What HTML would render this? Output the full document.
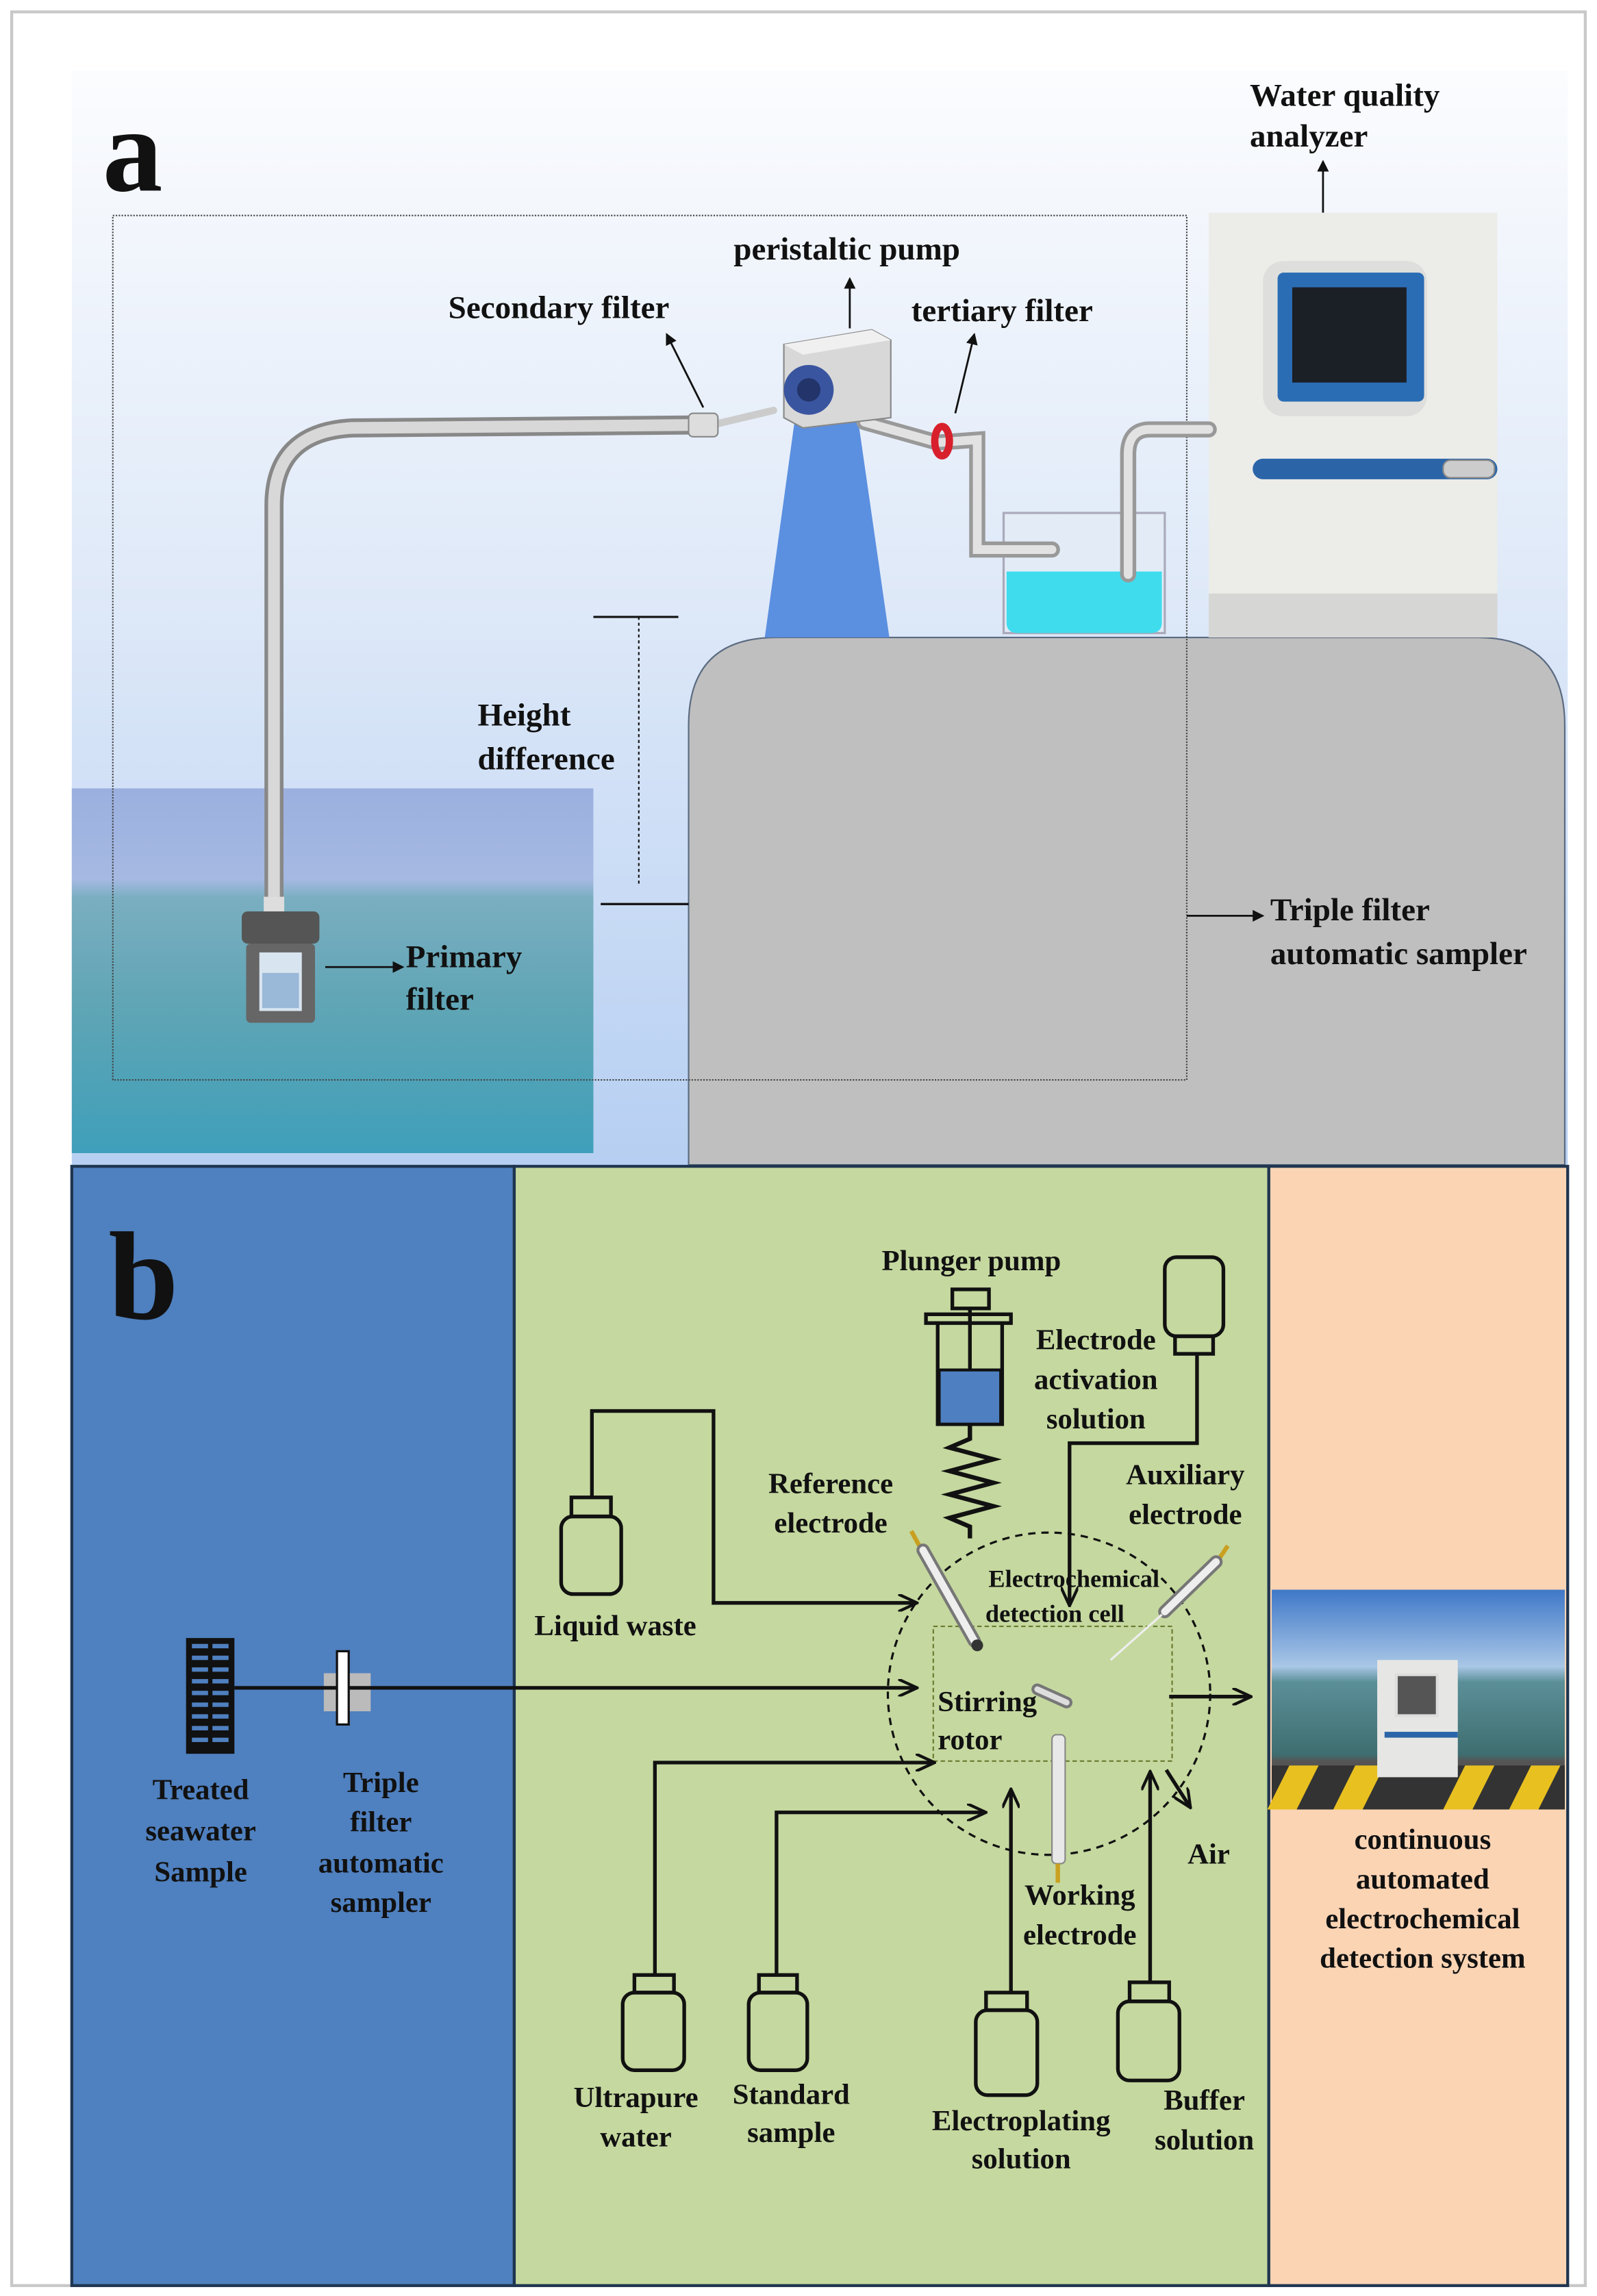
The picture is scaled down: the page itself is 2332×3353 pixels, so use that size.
<!DOCTYPE html>
<html><head><meta charset="utf-8"><style>
html,body{margin:0;padding:0;background:#fff}
svg{display:block}
text{font-family:"Liberation Serif",serif;font-weight:bold;fill:#111}
</style></head><body>
<svg width="2332" height="3353" viewBox="0 0 1090 1567" xmlns="http://www.w3.org/2000/svg">
<defs>
<linearGradient id="sky" x1="0" y1="0" x2="0" y2="1"><stop offset="0" stop-color="#fbfcfe"/><stop offset="0.5" stop-color="#dde8f8"/><stop offset="1" stop-color="#b6cff2"/></linearGradient>
<linearGradient id="sea" x1="0" y1="0" x2="0" y2="1"><stop offset="0" stop-color="#9cb0e0"/><stop offset="0.25" stop-color="#a5b9e2"/><stop offset="0.3" stop-color="#7aaec0"/><stop offset="0.6" stop-color="#5fa5b5"/><stop offset="1" stop-color="#3f9fba"/></linearGradient>
<linearGradient id="ph" x1="0" y1="0" x2="0" y2="1"><stop offset="0" stop-color="#3f78c8"/><stop offset="0.35" stop-color="#a9c7e6"/><stop offset="0.42" stop-color="#5b8f98"/><stop offset="0.75" stop-color="#3e6e70"/><stop offset="0.78" stop-color="#555"/><stop offset="1" stop-color="#444"/></linearGradient>
<marker id="ar" markerWidth="8" markerHeight="8" refX="7" refY="4" orient="auto" markerUnits="userSpaceOnUse"><path d="M0,0 L8,4 L0,8 Z" fill="#111"/></marker>
<marker id="ar2" markerWidth="14" markerHeight="12" refX="12" refY="6" orient="auto" markerUnits="userSpaceOnUse"><path d="M0,0 L13,6 L0,12" fill="none" stroke="#111" stroke-width="2"/></marker>
</defs>
<rect x="8" y="8" width="1074" height="1552" fill="#fff" stroke="#c8c8c8" stroke-width="2"/>
<rect x="49" y="48" width="1021" height="747" fill="url(#sky)"/>
<rect x="49" y="538" width="356" height="249" fill="url(#sea)"/>
<path d="M470,795 L470,495 Q470,435 530,435 L1008,435 Q1068,435 1068,495 L1068,795 Z" fill="#bfbfbf" stroke="#5a6a80" stroke-width="1"/>
<text x="70" y="130" font-size="82">a</text>
<rect x="77" y="147" width="733" height="590" fill="none" stroke="#444" stroke-width="1" stroke-dasharray="1,1"/>
<rect x="825" y="145" width="197" height="290" fill="#ecece8"/>
<rect x="825" y="405" width="197" height="30" fill="#d6d6d4"/>
<rect x="862" y="178" width="112" height="106" rx="14" fill="#dedfdc"/>
<rect x="872" y="186" width="100" height="88" rx="4" fill="#2b6db5"/>
<rect x="882" y="196" width="78" height="65" fill="#1b1f26"/>
<rect x="855" y="313" width="167" height="14" rx="7" fill="#2b65a8"/>
<rect x="985" y="314" width="35" height="12" rx="5" fill="#ccc" stroke="#888"/>
<rect x="685" y="350" width="110" height="82" fill="#e4ecf4" fill-opacity="0.6" stroke="#aab" stroke-width="1.5"/>
<path d="M687,390 L793,390 L793,425 Q793,432 785,432 L695,432 Q687,432 687,425 Z" fill="#3fdcee"/>
<path d="M545,268 L583,268 L607,435 L522,435 Z" fill="#5b8fe0"/>
<g fill="none" stroke-linecap="round">
<path d="M187,618 L187,345 Q187,295 240,292 L470,290" stroke="#888" stroke-width="13"/>
<path d="M187,618 L187,345 Q187,295 240,292 L470,290" stroke="#d8d8d8" stroke-width="8"/>
<path d="M490,289 L528,280" stroke="#ccc" stroke-width="5"/>
<path d="M590,288 L640,302 L667,300 L667,375 L718,375" stroke="#999" stroke-width="11"/>
<path d="M590,288 L640,302 L667,300 L667,375 L718,375" stroke="#e2e2e2" stroke-width="6"/>
<path d="M825,293 L785,293 Q770,293 770,310 L770,392" stroke="#999" stroke-width="11"/>
<path d="M825,293 L785,293 Q770,293 770,310 L770,392" stroke="#e2e2e2" stroke-width="6"/>
</g>
<rect x="470" y="282" width="20" height="16" rx="3" fill="#ddd" stroke="#888"/>
<ellipse cx="643" cy="301" rx="5" ry="10" fill="none" stroke="#d8202c" stroke-width="5"/>
<path d="M535,235 L595,225 L608,232 L608,285 L548,292 L535,285 Z" fill="#d8d8d8" stroke="#888"/>
<path d="M535,235 L595,225 L608,232 L548,242 Z" fill="#f0f0f0"/>
<circle cx="552" cy="266" r="17" fill="#3a55a0"/>
<circle cx="552" cy="266" r="8" fill="#23346a"/>
<rect x="180" y="612" width="14" height="12" fill="#ddd"/>
<rect x="165" y="622" width="53" height="22" rx="4" fill="#555"/>
<rect x="168" y="644" width="47" height="54" rx="3" fill="#666"/>
<rect x="177" y="650" width="29" height="40" fill="#d8e4ef"/>
<rect x="179" y="664" width="25" height="24" fill="#9ab8d8"/>
<line x1="405" y1="421" x2="463" y2="421" stroke="#111" stroke-width="1.5"/>
<line x1="436" y1="421" x2="436" y2="605" stroke="#111" stroke-width="1" stroke-dasharray="2,2"/>
<line x1="410" y1="617" x2="470" y2="617" stroke="#111" stroke-width="1.5"/>
<g font-size="22">
<text x="853" y="72">Water quality</text><text x="853" y="100">analyzer</text>
<text x="578" y="177" text-anchor="middle">peristaltic pump</text>
<text x="306" y="217">Secondary filter</text>
<text x="622" y="219">tertiary filter</text>
<text x="326" y="495">Height</text><text x="326" y="525">difference</text>
<text x="277" y="660">Primary</text><text x="277" y="689">filter</text>
<text x="867" y="628">Triple filter</text><text x="867" y="658">automatic sampler</text>
</g>
<g stroke="#111" stroke-width="1.3" marker-end="url(#ar)">
<line x1="903" y1="145" x2="903" y2="110"/>
<line x1="580" y1="224" x2="580" y2="190"/>
<line x1="480" y1="278" x2="455" y2="228"/>
<line x1="652" y1="282" x2="665" y2="228"/>
<line x1="222" y1="660" x2="275" y2="660"/>
<line x1="810" y1="625" x2="862" y2="625"/>
</g>
<rect x="49" y="796" width="302" height="764" fill="#4f80bf" stroke="#1f3550" stroke-width="2"/>
<rect x="351" y="796" width="515" height="764" fill="#c5d89f" stroke="#1f3550" stroke-width="2"/>
<rect x="866" y="796" width="204" height="764" fill="#fbd4b4" stroke="#1f3550" stroke-width="2"/>
<text x="74" y="900" font-size="86">b</text>
<rect x="868" y="1085" width="200" height="150" fill="url(#ph)"/>
<rect x="868" y="1205" width="200" height="30" fill="#333"/>
<g fill="#e8c020"><path d="M880,1205 L900,1205 L885,1235 L865,1235Z"/><path d="M925,1205 L945,1205 L930,1235 L910,1235Z"/><path d="M1000,1205 L1020,1205 L1005,1235 L985,1235Z"/><path d="M1045,1205 L1065,1205 L1050,1235 L1030,1235Z"/></g>
<rect x="940" y="1133" width="55" height="80" fill="#e6e6e4"/>
<rect x="953" y="1143" width="28" height="28" fill="#555" stroke="#ddd" stroke-width="2"/>
<rect x="945" y="1182" width="50" height="4" fill="#2b65a8"/>
<rect x="127" y="1118" width="33" height="79" fill="#111"/>
<g fill="#4f80bf"><rect x="131" y="1122" width="11" height="3"/><rect x="145" y="1122" width="11" height="3"/><rect x="131" y="1130" width="11" height="3"/><rect x="145" y="1130" width="11" height="3"/><rect x="131" y="1138" width="11" height="3"/><rect x="145" y="1138" width="11" height="3"/><rect x="131" y="1146" width="11" height="3"/><rect x="145" y="1146" width="11" height="3"/><rect x="131" y="1154" width="11" height="3"/><rect x="145" y="1154" width="11" height="3"/><rect x="131" y="1162" width="11" height="3"/><rect x="145" y="1162" width="11" height="3"/><rect x="131" y="1170" width="11" height="3"/><rect x="145" y="1170" width="11" height="3"/><rect x="131" y="1178" width="11" height="3"/><rect x="145" y="1178" width="11" height="3"/><rect x="131" y="1186" width="11" height="3"/><rect x="145" y="1186" width="11" height="3"/></g>
<rect x="221" y="1142" width="32" height="26" fill="#bbb"/>
<line x1="160" y1="1152" x2="625" y2="1152" stroke="#111" stroke-width="2.5" marker-end="url(#ar2)"/>
<rect x="230" y="1127" width="8" height="50" fill="#fff" stroke="#111" stroke-width="1.5"/>
<circle cx="716" cy="1156" r="110" fill="none" stroke="#111" stroke-width="1.5" stroke-dasharray="5,4"/>
<rect x="637" y="1110" width="163" height="92" fill="none" stroke="#6a7a30" stroke-width="1" stroke-dasharray="3,2"/>
<g fill="none" stroke="#111" stroke-width="2.5">
<rect x="650" y="880" width="25" height="13"/>
<line x1="662" y1="893" x2="662" y2="935"/>
<rect x="632" y="897" width="58" height="6"/>
<path d="M640,903 L640,972 L684,972 L684,903"/>
</g>
<rect x="641" y="935" width="42" height="37" fill="#4e7fc0" stroke="#111" stroke-width="2"/>
<path d="M662,972 L662,982 L648,988 L678,996 L648,1004 L678,1012 L648,1020 L678,1028 L648,1036 L662,1042 L662,1050" fill="none" stroke="#111" stroke-width="3"/>
<g fill="none" stroke="#111" stroke-width="2.5">
<rect x="795" y="858" width="40" height="54" rx="8"/><rect x="802" y="912" width="26" height="12"/>
<rect x="383" y="1035" width="41" height="53" rx="8"/><rect x="390" y="1022" width="27" height="13"/>
<rect x="425" y="1360" width="42" height="53" rx="8"/><rect x="433" y="1348" width="27" height="12"/>
<rect x="511" y="1360" width="40" height="53" rx="8"/><rect x="518" y="1348" width="26" height="12"/>
<rect x="666" y="1372" width="42" height="58" rx="8"/><rect x="673" y="1360" width="28" height="12"/>
<rect x="763" y="1366" width="42" height="54" rx="8"/><rect x="771" y="1353" width="27" height="13"/>
</g>
<g fill="none" stroke="#111" stroke-width="2.5" marker-end="url(#ar2)">
<path d="M817,924 L817,985 L730,985 L730,1095"/>
<path d="M404,1022 L404,963 L487,963 L487,1094 L625,1094"/>
<path d="M447,1348 L447,1203 L637,1203"/>
<path d="M530,1348 L530,1237 L672,1237"/>
<path d="M690,1360 L690,1222"/>
<path d="M785,1353 L785,1210"/>
<path d="M798,1158 L853,1158"/>
<path d="M796,1208 L812,1233"/>
</g>
<line x1="622" y1="1045" x2="628" y2="1056" stroke="#c9a020" stroke-width="3"/>
<line x1="630" y1="1058" x2="665" y2="1120" stroke="#777" stroke-width="9" stroke-linecap="round"/>
<line x1="630" y1="1058" x2="665" y2="1120" stroke="#eee" stroke-width="5" stroke-linecap="round"/>
<circle cx="667" cy="1123" r="4" fill="#333"/>
<line x1="838" y1="1055" x2="832" y2="1064" stroke="#c9a020" stroke-width="3"/>
<line x1="830" y1="1066" x2="795" y2="1100" stroke="#777" stroke-width="9" stroke-linecap="round"/>
<line x1="830" y1="1066" x2="795" y2="1100" stroke="#eee" stroke-width="5" stroke-linecap="round"/>
<line x1="793" y1="1102" x2="758" y2="1133" stroke="#eee" stroke-width="1.5"/>
<line x1="708" y1="1153" x2="728" y2="1162" stroke="#777" stroke-width="8" stroke-linecap="round"/>
<line x1="708" y1="1153" x2="728" y2="1162" stroke="#ddd" stroke-width="4" stroke-linecap="round"/>
<rect x="718" y="1184" width="9" height="88" rx="3" fill="#e8e8e8" stroke="#888"/>
<line x1="722" y1="1272" x2="722" y2="1285" stroke="#c9a020" stroke-width="3"/>
<g font-size="20">
<text x="137" y="1228" text-anchor="middle">Treated</text><text x="137" y="1256" text-anchor="middle">seawater</text><text x="137" y="1284" text-anchor="middle">Sample</text>
<text x="260" y="1223" text-anchor="middle">Triple</text><text x="260" y="1250" text-anchor="middle">filter</text><text x="260" y="1278" text-anchor="middle">automatic</text><text x="260" y="1305" text-anchor="middle">sampler</text>
<text x="663" y="867" text-anchor="middle">Plunger pump</text>
<text x="748" y="921" text-anchor="middle">Electrode</text><text x="748" y="948" text-anchor="middle">activation</text><text x="748" y="975" text-anchor="middle">solution</text>
<text x="567" y="1019" text-anchor="middle">Reference</text><text x="567" y="1046" text-anchor="middle">electrode</text>
<text x="809" y="1013" text-anchor="middle">Auxiliary</text><text x="809" y="1040" text-anchor="middle">electrode</text>
<text x="420" y="1116" text-anchor="middle">Liquid waste</text>
<text x="640" y="1168">Stirring</text><text x="640" y="1194">rotor</text>
<text x="737" y="1300" text-anchor="middle">Working</text><text x="737" y="1327" text-anchor="middle">electrode</text>
<text x="825" y="1272" text-anchor="middle">Air</text>
<text x="434" y="1438" text-anchor="middle">Ultrapure</text><text x="434" y="1465" text-anchor="middle">water</text>
<text x="540" y="1436" text-anchor="middle">Standard</text><text x="540" y="1462" text-anchor="middle">sample</text>
<text x="697" y="1454" text-anchor="middle">Electroplating</text><text x="697" y="1480" text-anchor="middle">solution</text>
<text x="822" y="1440" text-anchor="middle">Buffer</text><text x="822" y="1467" text-anchor="middle">solution</text>
<text x="971" y="1262" text-anchor="middle">continuous</text><text x="971" y="1289" text-anchor="middle">automated</text><text x="971" y="1316" text-anchor="middle">electrochemical</text><text x="971" y="1343" text-anchor="middle">detection system</text>
</g>
<g font-size="17"><text x="733" y="1083" text-anchor="middle">Electrochemical</text><text x="720" y="1107" text-anchor="middle">detection cell</text></g>
</svg>
</body></html>
